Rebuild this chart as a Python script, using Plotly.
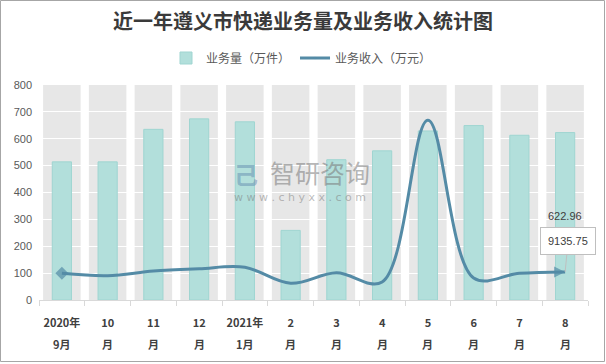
import plotly.graph_objects as go

categories = ["2020年9月", "10月", "11月", "12月", "2021年1月", "2月", "3月", "4月", "5月", "6月", "7月", "8月"]
tick_line1 = ["2020年", "10", "11", "12", "2021年", "2", "3", "4", "5", "6", "7", "8"]
tick_line2 = ["9月", "月", "月", "月", "1月", "月", "月", "月", "月", "月", "月", "月"]
volume = [514, 514, 635, 674, 663, 259, 522, 555, 629, 649, 613, 622.96]      # 万件
revenue = [8690, 7900, 9430, 10180, 10640, 5430, 8880, 5860, 58550, 7160, 8690, 9135.75]  # 万元
y_ticks = [0, 100, 200, 300, 400, 500, 600, 700, 800]

W, H = 606, 364
ML, MR, MT, MB = 39, 18, 85, 64
PW, PH = W - ML - MR, H - MT - MB

TEAL = "#b2dfdb"
TEAL_EDGE = "#9fd5d1"
LINE = "#548ba6"
BAND = "#e7e7e7"
TXT = "#595959"
CJK = "Noto Sans CJK SC"

fig = go.Figure()

fig.add_trace(go.Bar(
    x=categories, y=volume, name="业务量（万件）",
    marker=dict(color=TEAL, line=dict(color=TEAL_EDGE, width=1)),
    width=0.42, yaxis="y",
))

n = len(categories)
symbols = ["diamond"] + ["circle"] * (n - 2) + ["arrow-right"]
sizes = [10] + [0] * (n - 2) + [11]
fig.add_trace(go.Scatter(
    x=categories, y=revenue, name="业务收入（万元）", yaxis="y2",
    mode="lines+markers",
    line=dict(color=LINE, width=3, shape="spline", smoothing=1),
    marker=dict(symbol=symbols, size=sizes, color=LINE, line=dict(width=0)),
))

shapes = []
# grey column bands behind each category
for i in range(n):
    shapes.append(dict(type="rect", xref="x", yref="y", x0=i - 0.41, x1=i + 0.41,
                       y0=y_ticks[0], y1=y_ticks[-1], fillcolor=BAND,
                       line=dict(width=0), layer="below"))
# outer chart border
shapes.append(dict(type="rect", xref="paper", yref="paper",
                   x0=(0.5 - ML) / PW, x1=(W - 1.5 - ML) / PW,
                   y0=-(MB - 2.5) / PH, y1=1 + (MT - 0.5) / PH,
                   line=dict(color="#a6a6a6", width=1), fillcolor="rgba(0,0,0,0)"))

annotations = []
for i, t in enumerate(tick_line2):
    annotations.append(dict(x=categories[i], xref="x", y=-(344 - (MT + PH)) / PH,
                            yref="paper", text=f"<b>{t}</b>", showarrow=False,
                            yanchor="middle", font=dict(family=CJK, size=11, color="#404040")))
# data labels
annotations.append(dict(x=categories[-1], xref="x", y=(MT + PH - 216) / PH, yref="paper",
                        text=f"{volume[-1]:.2f}", showarrow=False, yanchor="middle",
                        font=dict(family="Liberation Sans", size=11, color="#404040")))
annotations.append(dict(x=categories[-1], xref="x", y=revenue[-1], yref="y2",
                        text=f"{revenue[-1]:.2f}", showarrow=True, arrowhead=0,
                        arrowcolor="#bfbfbf", arrowwidth=1, ax=3, ay=-31,
                        bgcolor="white", bordercolor="#bfbfbf", borderwidth=1, borderpad=7,
                        font=dict(family="Liberation Sans", size=11, color="#404040")))
# watermark
annotations.append(dict(x=(320 - ML) / PW, xref="paper", y=(MT + PH - 172) / PH, yref="paper",
                        text="智研咨询", showarrow=False,
                        font=dict(family=CJK, size=25, color="rgba(120,120,120,0.55)")))
annotations.append(dict(x=(300 - ML) / PW, xref="paper", y=(MT + PH - 197) / PH, yref="paper",
                        text="w w w . c h y x x . c o m", showarrow=False,
                        font=dict(family="DejaVu Sans", size=11, color="rgba(120,120,120,0.5)")))
annotations.append(dict(x=(246 - ML) / PW, xref="paper", y=(MT + PH - 173) / PH, yref="paper",
                        text="<b>己</b>", showarrow=False,
                        font=dict(family=CJK, size=24, color="rgba(90,130,170,0.45)")))

fig.update_layout(
    width=W, height=H,
    margin=dict(l=ML, r=MR, t=MT, b=MB, autoexpand=False),
    paper_bgcolor="white", plot_bgcolor="white",
    title=dict(text="<b>近一年遵义市快递业务量及业务收入统计图</b>", x=0.5, xanchor="center",
               y=1 - 22 / H, yanchor="middle",
               font=dict(family=CJK, size=20, color="#3a3a3a")),
    legend=dict(orientation="h", x=0.5 - 12 / PW, xanchor="center", y=1 + (MT - 58) / PH,
                yanchor="middle",
                font=dict(family=CJK, size=12, color=TXT), bgcolor="rgba(0,0,0,0)",
                itemwidth=30, tracegroupgap=0),
    showlegend=True,
    xaxis=dict(type="category", tickmode="array", tickvals=categories,
               ticktext=[f"<b>{t}</b>" for t in tick_line1], tickangle=0,
               tickfont=dict(family=CJK, size=11, color="#404040"),
               showline=True, linecolor="#d9d9d9", linewidth=1,
               ticks="outside", tickson="boundaries", ticklen=5, tickcolor="#d9d9d9",
               ticklabelstandoff=13,
               showgrid=False, range=[-0.5, n - 0.5], fixedrange=True, automargin=False),
    yaxis=dict(range=[y_ticks[0], y_ticks[-1]], tickvals=y_ticks, showgrid=True,
               gridcolor="white", gridwidth=1, zeroline=False, showline=False,
               tickfont=dict(family="Liberation Sans", size=11, color=TXT), ticks="",
               ticklabelstandoff=6, automargin=False),
    yaxis2=dict(range=[0, 70000], overlaying="y", side="right", visible=False,
                showgrid=False, zeroline=False),
    shapes=shapes,
    annotations=annotations,
)

fig.write_html("out.html", config={"displayModeBar": False},
               post_script="document.body.style.margin='0px';document.body.style.overflow='hidden';")
